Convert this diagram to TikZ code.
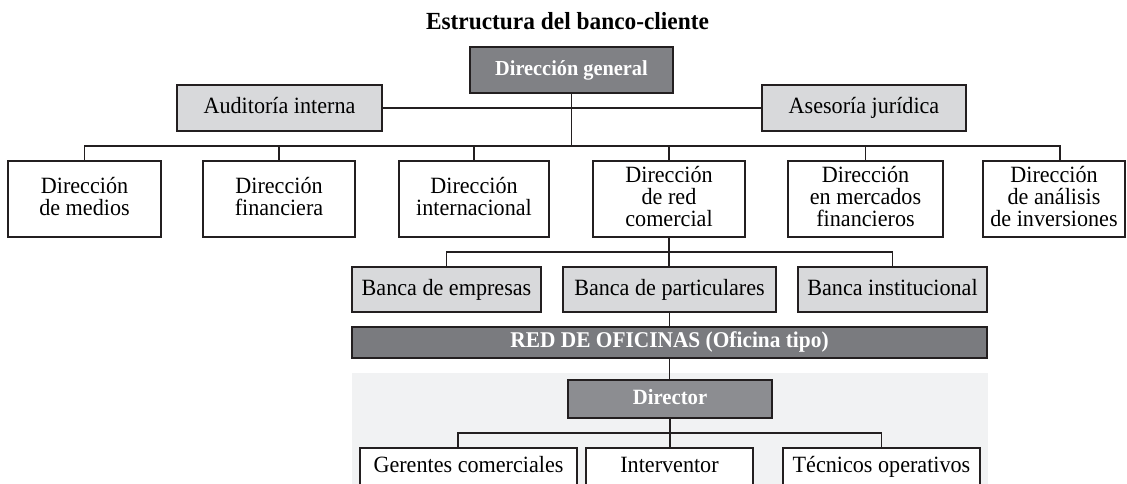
\documentclass[tikz,border=0pt]{standalone}
\usepackage{fontspec}
\setmainfont[FakeStretch=0.95]{Liberation Serif}
\definecolor{linec}{RGB}{35,31,32}
\definecolor{darkfill}{RGB}{128,129,133}
\definecolor{redfill}{RGB}{122,123,127}
\definecolor{dirfill}{RGB}{140,141,145}
\definecolor{lightfill}{RGB}{216,217,219}
\definecolor{panelfill}{RGB}{241,242,243}
\newcommand{\regfont}{\fontsize{23.3}{22}\selectfont}
\newcommand{\boldfont}{\fontsize{21.8}{20}\selectfont\bfseries}
\tikzset{
  orgbase/.style={draw=linec, line width=1.2pt, inner sep=0pt, align=center},
  whitebox/.style={orgbase, fill=white, font=\regfont, text depth=5pt},
  greybox/.style={orgbase, fill=lightfill, font=\regfont, text height=16pt, text depth=5pt},
  darkbox/.style={orgbase, fill=darkfill, text=white, font=\boldfont, text height=15pt, text depth=5pt},
  conn/.style={draw=linec, line width=1.2pt},
}
\begin{document}
\begin{tikzpicture}[x=1pt, y=-1pt]
\useasboundingbox (0,0) rectangle (1127,483);
\clip (0,0) rectangle (1127,483);
% background panel of the office
\fill[panelfill] (352,373) rectangle (988,500);
% title
\node[anchor=base, font=\fontsize{24.6}{26}\selectfont\bfseries] (title) at (567.5,29) {Estructura del banco-cliente};
% top level
\node[darkbox, minimum width=203pt, minimum height=46pt, font=\fontsize{21.4}{20}\selectfont\bfseries] (dg) at (571.5,70) {Dirección general};
\node[greybox, minimum width=205pt, minimum height=46pt] (ai) at (279.5,108) {Auditoría interna};
\node[greybox, minimum width=204pt, minimum height=46pt] (aj) at (864,108) {Asesoría jurídica};
% directions
\node[whitebox, minimum width=153pt, minimum height=76pt] (d1) at (84.5,199) {Dirección\\de medios};
\node[whitebox, minimum width=152pt, minimum height=76pt] (d2) at (279,199) {Dirección\\financiera};
\node[whitebox, minimum width=150pt, minimum height=76pt] (d3) at (474,199) {Dirección\\internacional};
\node[whitebox, minimum width=152pt, minimum height=76pt] (d4) at (669,199) {Dirección\\de red\\comercial};
\node[whitebox, minimum width=155pt, minimum height=76pt] (d5) at (865.5,199) {Dirección\\en mercados\\financieros};
\node[whitebox, minimum width=142pt, minimum height=76pt] (d6) at (1054,199) {Dirección\\de análisis\\de inversiones};
% banca
\node[greybox, minimum width=189pt, minimum height=45pt] (b1) at (446.5,289.5) {Banca de empresas};
\node[greybox, minimum width=213pt, minimum height=45pt] (b2) at (669.5,289.5) {Banca de particulares};
\node[greybox, minimum width=189pt, minimum height=45pt] (b3) at (892.5,289.5) {Banca institucional};
% red de oficinas
\node[darkbox, fill=redfill, minimum width=635pt, minimum height=31pt, font=\fontsize{22.5}{20}\selectfont\bfseries] (red) at (669.5,342.5) {RED DE OFICINAS (Oficina tipo)};
% director
\node[darkbox, fill=dirfill, minimum width=204pt, minimum height=38pt] (dir) at (670,399) {Director};
% staff
\node[whitebox, minimum width=217pt, minimum height=38pt, text height=16pt, text depth=5pt] (g1) at (468.5,467) {Gerentes comerciales};
\node[whitebox, minimum width=167pt, minimum height=38pt, text height=16pt, text depth=5pt] (g2) at (669.5,467) {Interventor};
\node[whitebox, minimum width=197pt, minimum height=38pt, text height=16pt, text depth=5pt] (g3) at (881.5,467) {Técnicos operativos};
% connectors
\coordinate (r1) at (571.5,146);
\coordinate (r2) at (669,252);
\coordinate (r3) at (670,433);
\coordinate (d6c) at (1060,161);
\coordinate (g1c) at (458,448);
\draw[conn] (ai.east) -- (aj.west);
\draw[conn] (dg.south) -- (r1);
\draw[conn] (d1.north) -- (d1.north |- r1) -- (d6c |- r1) -- (d6c);
\draw[conn] (d2.north) -- (d2.north |- r1);
\draw[conn] (d3.north) -- (d3.north |- r1);
\draw[conn] (d4.north) -- (d4.north |- r1);
\draw[conn] (d5.north) -- (d5.north |- r1);
\draw[conn] (d4.south) -- (d4.south |- b2.north);
\draw[conn] (b1.north) -- (b1.north |- r2) -- (b3.north |- r2) -- (b3.north);
\draw[conn] (b2.south) -- (b2.south |- red.north);
\draw[conn] (red.south) -- (red.south |- dir.north);
\draw[conn] (dir.south) -- (dir.south |- g2.north);
\draw[conn] (g1c) -- (g1c |- r3) -- (g3.north |- r3) -- (g3.north);
\end{tikzpicture}
\end{document}
